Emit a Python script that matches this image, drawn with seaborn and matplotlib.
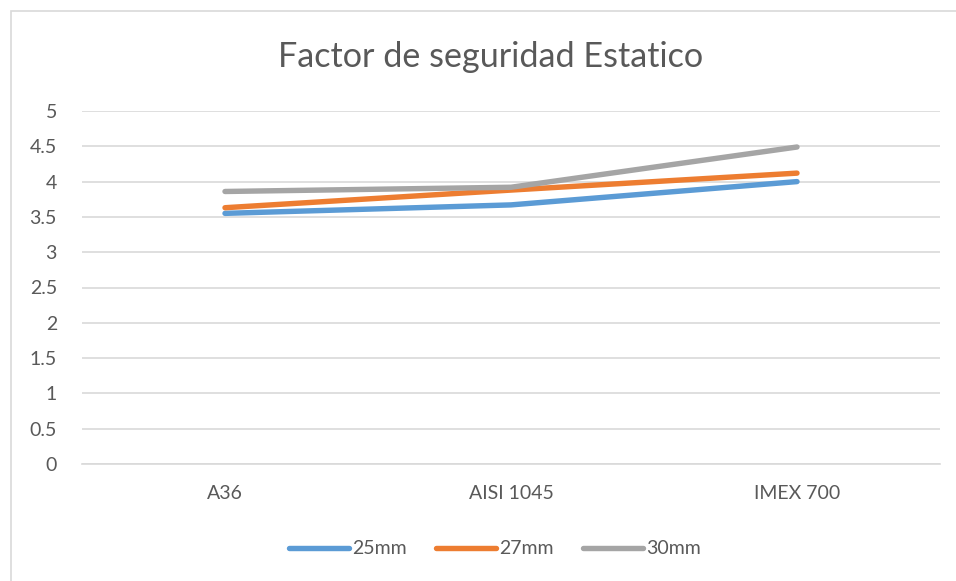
import matplotlib
matplotlib.use("Agg")
import matplotlib.pyplot as plt
from matplotlib.patches import Rectangle
import seaborn as sns
import pandas as pd

# Material categories and static safety factor for each shaft diameter
materials = ["A36", "AISI 1045", "IMEX 700"]
fs_25mm = [3.55, 3.67, 4.00]
fs_27mm = [3.63, 3.88, 4.12]
fs_30mm = [3.86, 3.92, 4.49]
series_names = ["25mm", "27mm", "30mm"]
y_ticks = [0, 0.5, 1, 1.5, 2, 2.5, 3, 3.5, 4, 4.5, 5]

df = pd.concat([
    pd.DataFrame({"Material": materials, "FS": vals, "Diametro": name})
    for name, vals in zip(series_names, [fs_25mm, fs_27mm, fs_30mm])
], ignore_index=True)

sns.set_theme(style="white")
plt.rcParams["font.family"] = ["Lato", "DejaVu Sans"]
text_color = "#595959"
palette = {"25mm": "#5B9BD5", "27mm": "#ED7D31", "30mm": "#A5A5A5"}

fig = plt.figure(figsize=(9.56, 5.81), dpi=100)
ax = fig.add_axes([82 / 956, 1 - 464 / 581, 858 / 956, 353 / 581])

sns.lineplot(data=df, x="Material", y="FS", hue="Diametro", palette=palette,
             linewidth=3.9, sort=False, ax=ax, legend=True)
for line in ax.get_lines():
    line.set_solid_capstyle("round")

ax.set_xlim(-0.5, 2.5)
ax.set_ylim(0, 5)
ax.set_yticks(y_ticks)
ax.set_yticklabels([f"{t:g}" for t in y_ticks])
ax.yaxis.grid(True, color="#D9D9D9", linewidth=1.2)
ax.set_axisbelow(True)
for side in ["left", "right", "top"]:
    ax.spines[side].set_visible(False)
ax.spines["bottom"].set_color("#D9D9D9")
ax.spines["bottom"].set_linewidth(1.2)
ax.tick_params(axis="both", length=0, labelsize=14, colors=text_color)
ax.tick_params(axis="y", pad=18)
ax.tick_params(axis="x", pad=15)
ax.set_xlabel("")
ax.set_ylabel("")

fig.text(491 / 956, 1 - 57 / 581, "Factor de seguridad Estatico", ha="center",
         va="center", fontsize=24.6, color=text_color)

handles, labels = ax.get_legend_handles_labels()
for h in handles:
    h.set_solid_capstyle("round")
ax.legend(handles, labels, loc="center", bbox_to_anchor=(495 / 956, 1 - 549 / 581),
          bbox_transform=fig.transFigure, ncol=3, frameon=False, fontsize=14,
          labelcolor=text_color, handlelength=3.1, handletextpad=0.15,
          columnspacing=1.5)

# chart area border (left and top edges)
fig.patches.append(Rectangle((10.5 / 956, -0.1), 1.2, 1.1 - 10.5 / 581,
                             transform=fig.transFigure, fill=False,
                             edgecolor="#D9D9D9", linewidth=1.2))

fig.savefig("out.png", dpi=100)
